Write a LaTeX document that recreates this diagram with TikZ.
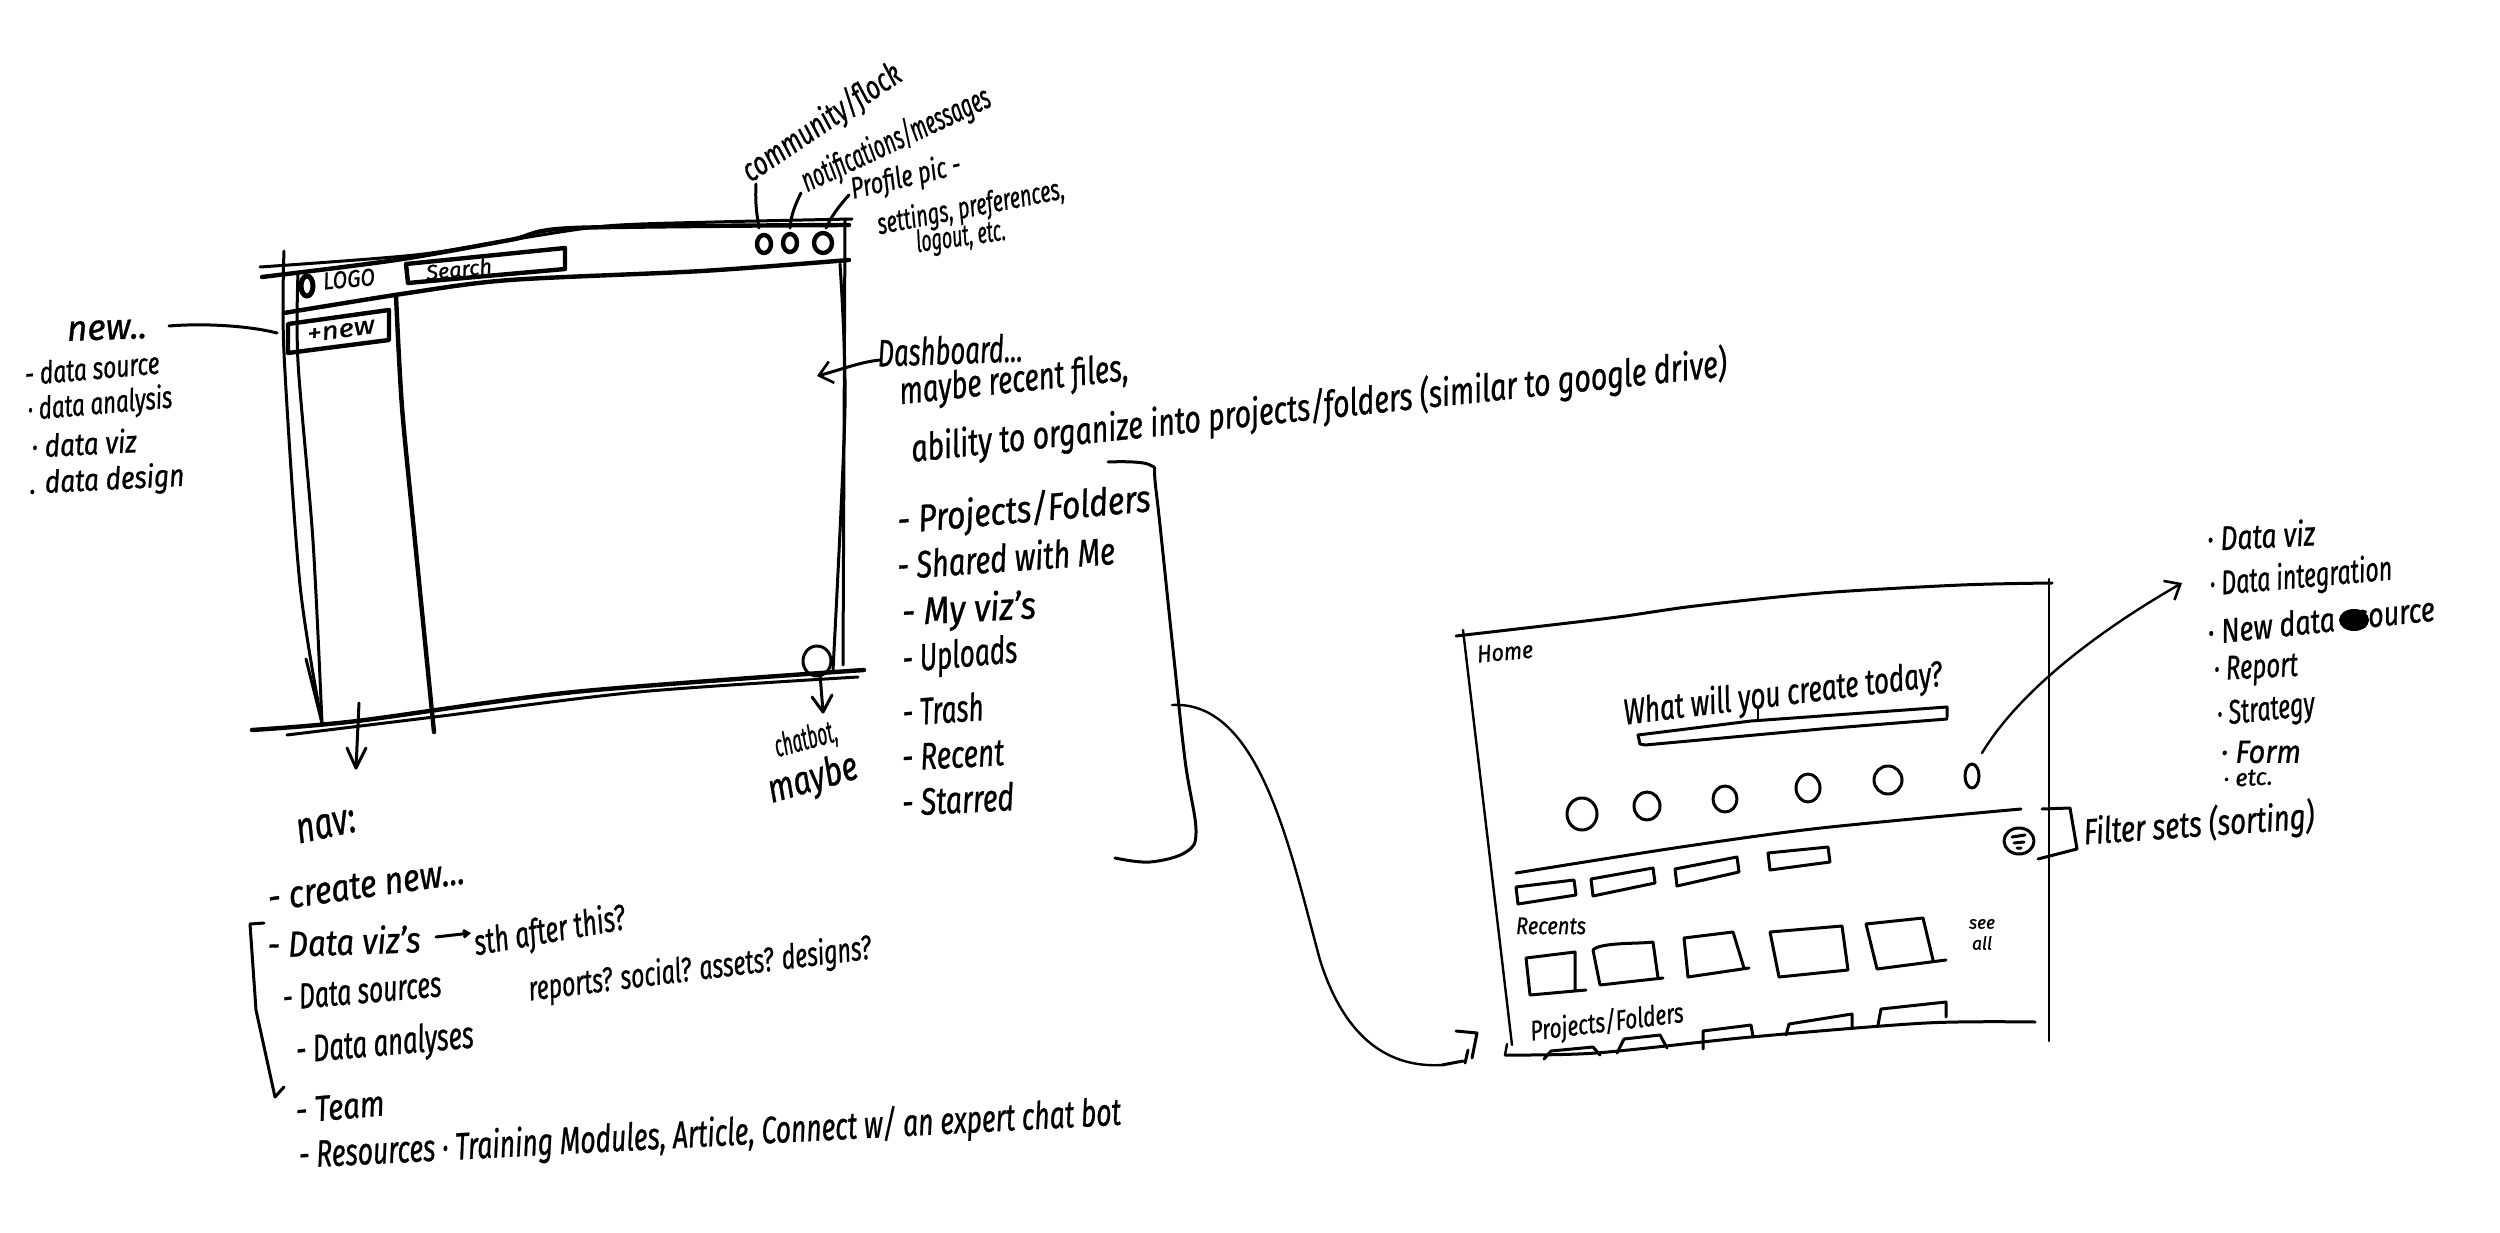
\documentclass[tikz,border=0pt]{standalone}
\usepackage{fontspec}
\usepackage{graphicx}
\setmainfont[ItalicFeatures={FakeBold=0.9}]{Fira Sans}
\usetikzlibrary{arrows.meta}
\newcommand{\hnd}[3]{\resizebox{#1pt}{\height}{\fontsize{#2}{#2}\selectfont\itshape #3}}
\tikzset{
  pen/.style={draw=black,line width=3pt,line cap=round,line join=round},
  heavy/.style={draw=black,line width=4.4pt,line cap=round,line join=round},
  fine/.style={draw=black,line width=2.4pt,line cap=round,line join=round},
  hand/.style={inner sep=0pt,text=black,anchor=center},
  barb/.style={-{Straight Barb[length=13pt,width=22pt,line width=2.6pt]}},
}
\begin{document}
\begin{tikzpicture}[x=1pt,y=-1pt]
\useasboundingbox[fill=white] (0,0) rectangle (2500,1233);

% ---------- window 1 ----------
\draw[pen] plot[smooth,tension=.5] coordinates {(260,267)(415,255)(510,240)(606,226)(715,222)(852,219)};
\draw[heavy] plot[smooth,tension=.5] coordinates {(262,277)(396,260)(510,240)(574,228)(849,225)};
\draw[pen] plot[smooth,tension=.5] coordinates {(284,251)(284,353)(300,585)(322,723)};
\draw[pen] plot[smooth,tension=.5] coordinates {(298,273)(298,362)(313,541)(322,723)};
\draw[heavy] plot[smooth,tension=.5] coordinates {(284,313)(408,293)(510,280)(702,271)(849,260)};
\draw[pen] (845,219) -- (843,665);
\draw[pen] plot[smooth,tension=.5] coordinates {(840,264)(845,407)(833,670)};
\draw[heavy] plot[smooth,tension=.5] coordinates {(252,730)(357,721)(574,692)(864,670)};
\draw[pen] plot[smooth,tension=.5] coordinates {(287,735)(434,717)(638,692)(858,677)};
\draw[heavy] plot[smooth,tension=.5] coordinates {(396,295)(402,407)(415,541)(434,732)};
\draw[pen] (306,659) -- (322,723);
\draw[heavy] (288,324) -- (389,310) -- (389,340) -- (288,353) -- cycle;
\node[hand,rotate=8] (plusnew) at (341,331) {\hnd{68}{25}{+new}};
\draw[line width=5pt] (307,286) ellipse [x radius=6pt,y radius=10pt];
\node[hand,rotate=5] (logo) at (349,279) {\hnd{52}{24}{LOGO}};
\draw[heavy] (406,264) -- (565,248) -- (565,269) -- (408,283) -- cycle;
\node[hand,rotate=6] (search) at (459,269) {\hnd{66}{21}{Search}};
\draw[heavy] (764,244) ellipse [x radius=7pt,y radius=9pt];
\draw[heavy] (790,243) ellipse [x radius=7pt,y radius=9pt];
\draw[heavy] (823,243) ellipse [x radius=9pt,y radius=10pt];
\draw[pen] (756,184) .. controls (755,205) and (757,215) .. (759,228);
\draw[pen] (801,193) .. controls (795,205) and (791,215) .. (790,228);
\draw[pen] (849,195) .. controls (840,205) and (832,215) .. (826,228);
\node[hand,rotate=34] (community) at (822,123) {\hnd{185}{33}{community/flock}};
\node[hand,rotate=25] (notif) at (896,140) {\hnd{205}{33}{notifications/messages}};
\node[hand,rotate=13] (profile) at (906,178) {\hnd{112}{30}{Profile pic -}};
\node[hand,rotate=11] (settings) at (971,208) {\hnd{190}{30}{settings, preferences,}};
\node[hand,rotate=8] (logout) at (961,238) {\hnd{90}{30}{logout, etc.}};

% new list
\node[hand,rotate=2] (newlabel) at (107,330) {\hnd{80}{36}{new..}};
\draw[pen] (169,326) .. controls (205,323) and (250,326) .. (277,333);
\node[hand,rotate=5] (src) at (92,368) {\hnd{135}{31}{- data source}};
\node[hand,rotate=5] (ana) at (100,405) {\hnd{145}{31}{· data analysis}};
\node[hand,rotate=3] (viz) at (84,443) {\hnd{105}{31}{· data viz}};
\node[hand,rotate=3] (des) at (107,481) {\hnd{155}{31}{. data design}};

% dashboard
\node[hand,rotate=2] (dash) at (950,350) {\hnd{145}{38}{Dashboard...}};
\draw[pen,barb] (880,360) .. controls (860,362) and (840,370) .. (817,376);
\node[hand,rotate=6] (maybe) at (1014,382) {\hnd{230}{38}{maybe recent files,}};
\node[hand,rotate=6] (ability) at (1319,407) {\hnd{820}{38}{ability to organize into projects/folders (similar to google drive)}};

% list
\node[hand,rotate=5] (l1) at (1024,511) {\hnd{254}{38}{- Projects/Folders}};
\node[hand,rotate=4] (l2) at (1006,557) {\hnd{218}{38}{- Shared with Me}};
\node[hand,rotate=3] (l3) at (969,611) {\hnd{134}{38}{- My viz's}};
\node[hand,rotate=5] (l4) at (960,657) {\hnd{115}{38}{- Uploads}};
\node[hand,rotate=4] (l5) at (943,709) {\hnd{81}{38}{- Trash}};
\node[hand,rotate=3] (l6) at (953,755) {\hnd{102}{38}{- Recent}};
\node[hand,rotate=3] (l7) at (958,799) {\hnd{112}{38}{- Starred}};

% big bracket and connector
\draw[pen] plot[smooth,tension=.6] coordinates {(1108,462)(1150,465)(1156,490)(1172,640)(1185,760)(1196,830)(1186,852)(1150,862)(1115,858)};
\coordinate (brk) at (1172,705);
\coordinate (hook) at (1442,1065);
\draw[fine] (brk) .. controls (1260,700) and (1290,850) .. (1320,960) .. controls (1345,1040) and (1390,1068) .. (hook);
\draw[pen] (hook) -- (1463,1061) (1468,1050) -- (1465,1063) (1456,1031) -- (1477,1033) -- (1472,1058);

% chatbot
\draw[pen] (817,661) ellipse [x radius=14pt,y radius=15pt];
\draw[pen] (820,674) -- (823,712);
\draw[pen] (812,697) -- (823,712) -- (832,695);
\node[hand,rotate=15] (chat) at (806,740) {\hnd{64}{32}{chatbot,}};
\node[hand,rotate=16] (maybe2) at (813,780) {\hnd{92}{40}{maybe}};

% nav
\draw[pen] (359,703) -- (356,768);
\draw[pen] (347,748) -- (356,768) -- (366,748);
\node[hand,rotate=12] (nav) at (326,826) {\hnd{60}{44}{nav:}};
\node[hand,rotate=8] (n1) at (366,885) {\hnd{198}{38}{- create new...}};
\node[hand,rotate=2] (n2) at (344,941) {\hnd{153}{36}{- Data viz's}};
\draw[pen,-{Straight Barb[length=5pt,width=7pt]}] (436,937) -- (471,933);
\node[hand,rotate=10] (n2b) at (550,932) {\hnd{153}{36}{sth after this?}};
\node[hand,rotate=5] (n3) at (362,991) {\hnd{159}{36}{- Data sources}};
\node[hand,rotate=7] (n3b) at (700,970) {\hnd{345}{34}{reports? social? assets? designs?}};
\node[hand,rotate=5] (n4) at (385,1045) {\hnd{178}{38}{- Data analyses}};
\node[hand,rotate=5] (n5) at (340,1107) {\hnd{89}{36}{- Team}};
\node[hand,rotate=3] (n6) at (710,1135) {\hnd{823}{38}{- Resources · Training Modules, Article, Connect w/ an expert chat bot}};
\draw[pen] (264,923) -- (250,924) -- (256,1010) -- (275,1097) (275,1097) -- (284,1087);

% ---------- window 2 ----------
\draw[pen] plot[smooth,tension=.5] coordinates {(1456,636)(1610,618)(1695,606)(1821,593)(1961,585)(2052,583)};
\draw[fine] (1463,630) -- (1512,1045);
\draw[fine] (2049,579) -- (2049,1041);
\draw[pen] plot[smooth,tension=.5] coordinates {(1505,1055)(1596,1053)(1751,1037)(1926,1023)(2035,1022)};
\draw[fine] (1507,1044) -- (1505,1055);
\node[hand,rotate=5] (home) at (1505,652) {\hnd{56}{24}{Home}};
\node[hand,rotate=7] (what) at (1783,695) {\hnd{321}{36}{What will you create today?}};
\draw[pen] (1638,735) -- (1751,721) -- (1947,707) -- (1947,717);
\draw[pen] (1638,735) -- (1640,744) -- (1645,745) -- (1821,729) -- (1947,719);
\draw[fine] (1758,709) -- (1758,721);
\draw[pen] (1582,814) ellipse [x radius=15pt,y radius=16pt];
\draw[pen] (1647,806) ellipse [x radius=13pt,y radius=14pt];
\draw[pen] (1725,799) ellipse [x radius=12pt,y radius=13pt];
\draw[pen] (1808,788) ellipse [x radius=12pt,y radius=14pt];
\draw[pen] (1888,780) ellipse [x radius=14pt,y radius=14pt];
\draw[pen] (1972,776) ellipse [x radius=7pt,y radius=12pt];
\draw[fine,barb] (1982,753) .. controls (2020,690) and (2100,630) .. (2182,583);
\draw[pen] plot[smooth,tension=.5] coordinates {(1516,873)(1681,847)(1821,828)(2021,809)};
\foreach \a/\b/\c/\d in {
 1516/887/1574/880, 1591/879/1653/868, 1675/869/1737/857, 1768/853/1828/847}{
 \pgfmathsetmacro{\e}{\c+2}\pgfmathsetmacro{\f}{\d+15}\pgfmathsetmacro{\g}{\b+17}\pgfmathsetmacro{\h}{\a+2}
 \draw[pen] (\a,\b) -- (\c,\d) -- (\e,\f) -- (\h,\g) -- cycle;
}
\node[hand] (recents) at (1551,926) {\hnd{70}{24}{Recents}};
\draw[pen] (1526,958) -- (1575,952) -- (1575,990) (1526,958) -- (1530,995) -- (1586,990);
\draw[pen] (1593,950) .. controls (1600,942) and (1640,944) .. (1653,942) -- (1658,978) (1593,950) -- (1600,985) -- (1663,978);
\draw[pen] (1684,938) -- (1733,932) -- (1744,968) (1684,938) -- (1688,977) -- (1749,968);
\draw[pen] (1770,932) -- (1842,926) -- (1848,970) (1770,932) -- (1779,977) -- (1848,970);
\draw[pen] (1866,924) -- (1923,918) -- (1933,960) (1866,924) -- (1877,969) -- (1946,960);
\node[hand] (see) at (1982,924) {\hnd{26}{18}{see}};
\node[hand] (all) at (1982,943) {\hnd{20}{18}{all}};
\node[hand,rotate=7] (proj) at (1607,1023) {\hnd{154}{28}{Projects/Folders}};
\draw[pen] (1544,1059) -- (1551,1051) -- (1593,1047) -- (1600,1055);
\draw[pen] (1617,1053) -- (1624,1039) -- (1660,1035) -- (1667,1048);
\draw[pen] (1703,1049) -- (1703,1031) -- (1751,1025) -- (1753,1037);
\draw[pen] (1786,1035) -- (1789,1024) -- (1852,1014) -- (1852,1027);
\draw[pen] (1878,1025) -- (1881,1009) -- (1946,1002) -- (1946,1017);
\draw[pen] (2019,841) ellipse [x radius=15pt,y radius=13pt];
\draw[pen] (2012,837) -- (2025,835) (2014,843) -- (2024,842) (2017,848) -- (2021,848);
\draw[pen] (2042,809) -- (2070,808) -- (2077,849) -- (2038,859);
\node[hand,rotate=4] (filter) at (2199,825) {\hnd{231}{36}{Filter sets (sorting)}};
\node[hand,rotate=3] (r1) at (2261,535) {\hnd{108}{34}{· Data viz}};
\node[hand,rotate=5] (r2) at (2301,578) {\hnd{183}{34}{· Data integration}};
\node[hand,rotate=6] (r3) at (2321,620) {\hnd{228}{34}{· New data \ \ source}};
\fill[black] (2354,620) ellipse [x radius=15pt,y radius=11pt];
\node[hand,rotate=3] (r4) at (2256,670) {\hnd{84}{34}{· Report}};
\node[hand,rotate=6] (r5) at (2266,712) {\hnd{98}{34}{· Strategy}};
\node[hand] (r6) at (2261,752) {\hnd{80}{32}{· Form}};
\node[hand,rotate=3] (r7) at (2248,778) {\hnd{49}{24}{· etc.}};
\end{tikzpicture}
\end{document}
